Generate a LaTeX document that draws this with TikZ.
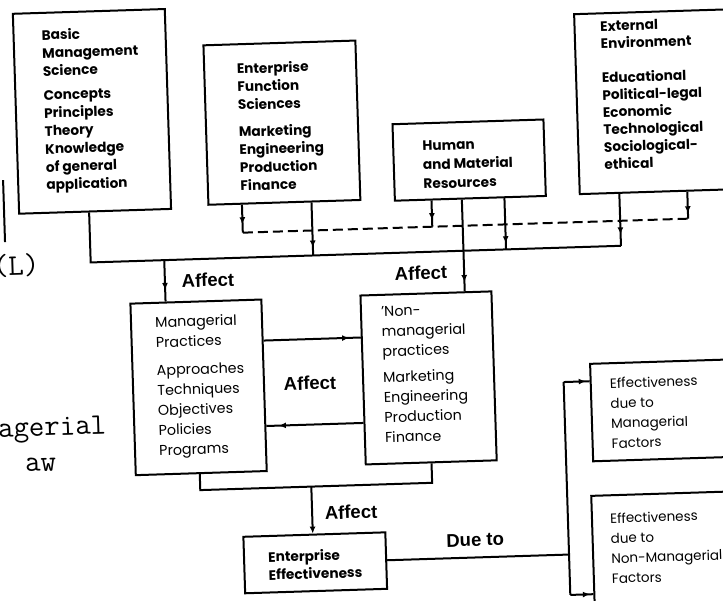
\documentclass[tikz,border=0pt]{standalone}
\usepackage{fontspec}
\setmainfont{Poppins}
\newfontfamily\lblfont{Liberation Sans}
\usetikzlibrary{arrows.meta,decorations.markings,calc}

\tikzset{
  frame/.style={draw, line width=2pt, inner sep=0pt, anchor=north west},
  wire/.style={line width=2pt},
  dashwire/.style={line width=2pt, dash pattern=on 10pt off 5pt},
  midtip/.style={postaction={decorate}, decoration={markings,
      mark=at position #1 with {\arrow{Latex[length=7pt,width=6pt]}}}},
  heavytext/.style={anchor=north west, inner sep=0pt, align=left,
      font=\fontsize{13.7}{18}\selectfont\bfseries},
  lighttext/.style={anchor=north west, inner sep=0pt, align=left,
      font=\fontsize{14.3}{20}\selectfont},
  smalltext/.style={anchor=north west, inner sep=0pt, align=left,
      font=\fontsize{13.5}{20}\selectfont},
  lbl/.style={inner sep=0pt, font=\lblfont\fontsize{18.5}{20}\selectfont\bfseries},
  typed/.style={anchor=base west, inner sep=0pt, font=\ttfamily\fontsize{30}{34}\selectfont},
}

\begin{document}
\begin{tikzpicture}[x=1pt,y=-1pt]
\useasboundingbox (0,0) rectangle (723,600);
\fill[white] (0,0) rectangle (723,600);
\clip (0,0) rectangle (723,600);

\begin{scope}[rotate around={1.8:(361,300)}, transform shape]

% ---- source boxes (top row) ----
\node[frame, minimum width=152pt, minimum height=200pt] (A) at (21,2) {};
\node[heavytext] (A-txt) at (50,19) {Basic\\Management\\Science\\[6pt]Concepts\\Principles\\Theory\\Knowledge\\of general\\application};

\node[frame, minimum width=152pt, minimum height=159.5pt] (B) at (210.5,39.5) {};
\node[heavytext] (B-txt) at (244,59) {Enterprise\\Function\\Sciences\\[9pt]Marketing\\Engineering\\Production\\Finance};

\node[frame, minimum width=151pt, minimum height=76.5pt] (C) at (397,124.3) {};
\node[heavytext, font=\fontsize{13.7}{19}\selectfont\bfseries] (C-txt) at (427,143) {Human\\and Material\\Resources};

\node[frame, minimum width=180pt, minimum height=180pt] (D) at (582,20) {};
\node[heavytext, font=\fontsize{13.7}{17.3}\selectfont\bfseries] (D-txt) at (608.5,28.6) {External\\Environment\\[17pt]Educational\\Political-legal\\Economic\\Technological\\Sociological-\\ethical};

% ---- practices ----
\node[frame, minimum width=131pt, minimum height=171.6pt] (E) at (129.4,295.4) {};
\node[lighttext] (E-txt) at (154.5,310) {Managerial\\Practices\\[8pt]Approaches\\Techniques\\Objectives\\Policies\\Programs};

\node[frame, minimum width=131pt, minimum height=169pt] (F) at (359.6,294.5) {};
\node[lighttext] (F-txt) at (380.6,307) {’Non-\\managerial\\practices\\[6pt]Marketing\\Engineering\\Production\\Finance};

% ---- effectiveness ----
\node[frame, minimum width=142pt, minimum height=56.5pt] (G) at (235,532) {};
\node[heavytext] (G-txt) at (260,548) {Enterprise\\Effectiveness};

\node[frame, minimum width=180pt, minimum height=97.5pt] (H) at (587,370) {};
\node[smalltext] (H-txt) at (607,385.6) {Effectiveness\\due to\\Managerial\\Factors};

\node[frame, minimum width=180pt, minimum height=150pt] (I) at (584,502) {};
\node[smalltext] (I-txt) at (603,520.6) {Effectiveness\\due to\\Non-Managerial\\Factors};

% ---- junction points ----
\coordinate (bus-w) at (92,254);
\coordinate (bus-e) at (622.6,254);
\coordinate (dash-w) at (245,229);
\coordinate (dash-e) at (690.6,229);
\coordinate (b-tap) at (314.6,254);
\coordinate (c-dash) at (434.6,229);
\coordinate (c-down) at (465,254);
\coordinate (c-tap) at (507.6,254);
\coordinate (e-tap) at (165.6,254);
\coordinate (ef-top) at (310,337.5);
\coordinate (ef-bot) at (310,423);
\coordinate (join-w) at (194.4,485);
\coordinate (join-e) at (426.4,485);
\coordinate (join-m) at (305.5,485);
\coordinate (split) at (561,561);
\coordinate (split-n) at (561,388.4);
\coordinate (split-s) at (561,601.4);

% ---- collecting lines ----
\draw[wire] ($(A.south west)!(bus-w)!(A.south east)$) -- (bus-w) -- (bus-e);
\draw[dashwire] (dash-w) -- (dash-e);

\draw[wire, midtip=0.7] ($(B.south west)!(dash-w)!(B.south east)$) -- (dash-w);
\draw[wire, midtip=0.85] ($(B.south west)!(b-tap)!(B.south east)$) -- (b-tap);

\draw[wire, midtip=0.75] ($(C.south west)!(c-dash)!(C.south east)$) -- (c-dash);
\draw[wire, midtip=0.9] ($(C.south west)!(c-down)!(C.south east)$) -- ($(F.north west)!(c-down)!(F.north east)$);
\draw[wire, midtip=0.88] ($(C.south west)!(c-tap)!(C.south east)$) -- (c-tap);

\draw[wire, midtip=0.78] ($(D.south west)!(bus-e)!(D.south east)$) -- (bus-e);
\draw[wire, midtip=0.8] ($(D.south west)!(dash-e)!(D.south east)$) -- (dash-e);

\draw[wire, midtip=0.72] (e-tap) -- ($(E.north west)!(e-tap)!(E.north east)$);

% ---- mutual influence ----
\draw[wire, midtip=0.88] ($(E.north east)!(ef-top)!(E.south east)$) -- ($(F.north west)!(ef-top)!(F.south west)$);
\draw[wire, midtip=0.87] ($(F.north west)!(ef-bot)!(F.south west)$) -- ($(E.north east)!(ef-bot)!(E.south east)$);

% ---- to enterprise effectiveness ----
\draw[wire] ($(E.south west)!(join-w)!(E.south east)$) -- (join-w) -- (join-e) -- ($(F.south west)!(join-e)!(F.south east)$);
\draw[wire, -{Latex[length=7pt,width=6pt]}] (join-m) -- ($(G.north west)!(join-m)!(G.north east)$);

% ---- split of effectiveness ----
\draw[wire] ($(G.north east)!(split)!(G.south east)$) -- (split);
\draw[wire] (split-n) -- (split-s);
\draw[wire, midtip=0.85] (split-n) -- ($(H.north west)!(split-n)!(H.south west)$);
\draw[wire, midtip=0.85] (split-s) -- ($(I.north west)!(split-s)!(I.south west)$);

% ---- labels ----
\node[lbl] (aff-a) at (208.6,275.3) {Affect};
\node[lbl] (aff-b) at (421.8,274.9) {Affect};
\node[lbl] (aff-c) at (307.4,381.4) {Affect};
\node[lbl] (aff-d) at (344.4,511.7) {Affect};
\node[lbl] (dueto) at (467.6,543.5) {Due to};

% ---- typed text at the left margin ----
\coordinate (edge-top) at (7,169);
\coordinate (edge-bot) at (7,231);
\draw[wire] (edge-top) -- (edge-bot);
\node[typed] (typed-l) at (-6,264) {(L)};
\node[typed] (typed-m) at (-6,425.7) {agerial};
\node[typed] (typed-n) at (20,461) {aw};

\end{scope}
\end{tikzpicture}
\end{document}
